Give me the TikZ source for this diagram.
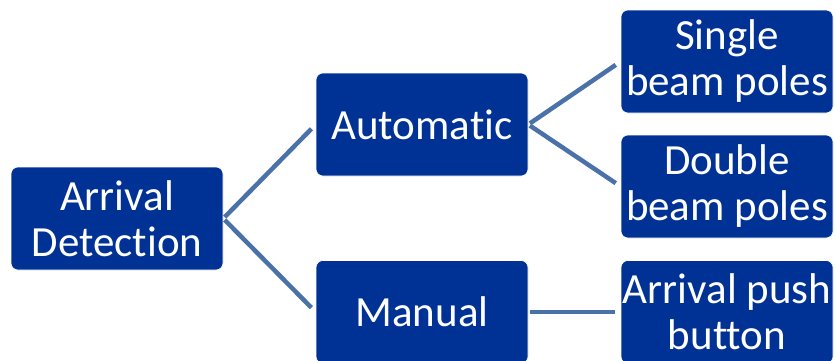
\documentclass[tikz,border=0pt]{standalone}
\usepackage{fontspec}
\newfontfamily\boxfont[Ligatures=NoCommon]{Carlito}
\definecolor{boxblue}{RGB}{0,50,150}
\definecolor{linkblue}{RGB}{74,114,168}
\tikzset{
	branch/.style={draw=white, line width=0.6pt, fill=boxblue, rounded corners=7pt, text=white, align=center,
		minimum width=212pt, minimum height=103pt, inner sep=0pt, font=\boxfont\fontsize{43}{46}\selectfont},
	link/.style={draw=linkblue, line width=4.5pt, shorten <=2pt, shorten >=6pt}
}
\begin{document}
\begin{tikzpicture}[x=1pt, y=1pt]
	\useasboundingbox (0,0) rectangle (835,360);
	\node[branch] (arrival) at (117,141.5) {Arrival\\Detection};
	\node[branch] (auto) at (422,235.5) {Automatic};
	\node[branch] (manual) at (422,48) {Manual};
	\node[branch] (single) at (727,298.5) {Single\\beam poles};
	\node[branch] (double) at (727,173.5) {Double\\beam poles};
	\node[branch] (push) at (727,48) {Arrival push\\button};
	\draw[link] (arrival.east) -- (auto.west);
	\draw[link] (arrival.east) -- (manual.west);
	\draw[link] (auto.east) -- (single.west);
	\draw[link] (auto.east) -- (double.west);
	\draw[link] (manual.east) -- (push.west);
\end{tikzpicture}
\end{document}
